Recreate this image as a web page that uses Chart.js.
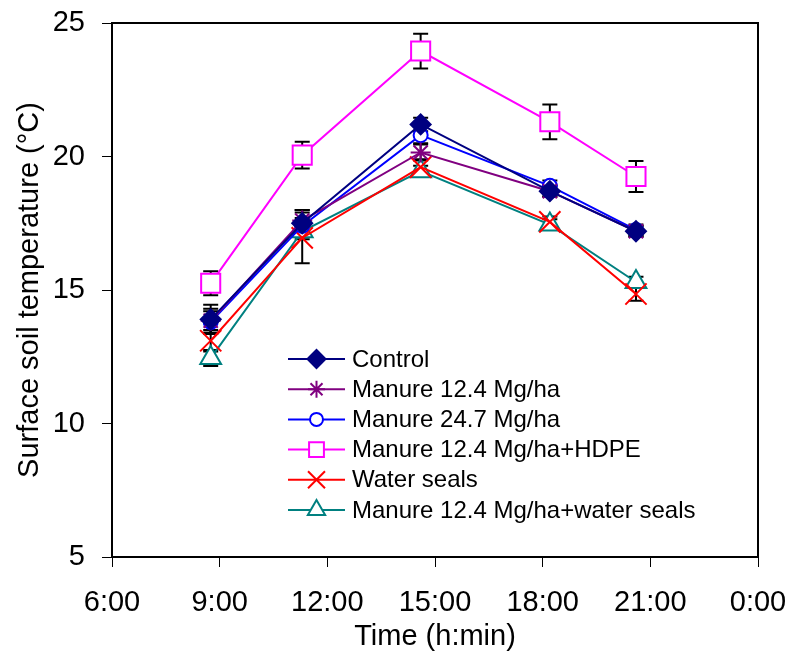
<!DOCTYPE html>
<html>
<head>
<meta charset="utf-8">
<title>Surface soil temperature</title>
<script src="https://cdn.jsdelivr.net/npm/chart.js@4.4.1/dist/chart.umd.min.js"></script>
<style>
  html, body { margin: 0; padding: 0; background: #fff; }
  #wrap { width: 791px; height: 660px; }
</style>
</head>
<body>
<div id="wrap"><canvas id="tempChart" width="791" height="660"></canvas></div>
<script>
// sampling times (hours of the day)
var times = [8.75, 11.3, 14.6, 18.2, 20.6];
var timeLabels = ['6:00', '9:00', '12:00', '15:00', '18:00', '21:00', '0:00'];
var tempTicks = [5, 10, 15, 20, 25];

var seriesNames = ['Control', 'Manure 12.4 Mg/ha', 'Manure 24.7 Mg/ha',
	'Manure 12.4 Mg/ha+HDPE', 'Water seals', 'Manure 12.4 Mg/ha+water seals'];

// mean surface soil temperature (C)
var control    = [13.9, 17.5, 21.2, 18.7, 17.2];
var manure124  = [13.85, 17.6, 20.15, 18.7, 17.2];
var manure247  = [13.8, 17.4, 20.8, 18.9, 17.25];
var manureHdpe = [15.25, 20.05, 23.95, 21.3, 19.25];
var waterSeals = [13.1, 16.95, 19.6, 17.55, 14.85];
var manureWater= [12.45, 17.2, 19.45, 17.45, 15.3];

// error bars (+/-)
var controlErr    = [0.55, 0.5, 0.25, 0.2, 0.2];
var manure124Err  = [0.45, 0.4, 0.3, 0.2, 0.2];
var manure247Err  = [0.4, 0.3, 0.3, 0.2, 0.2];
var manureHdpeErr = [0.45, 0.5, 0.65, 0.65, 0.58];
var waterSealsErr = [0.4, 0.95, 0.3, 0.2, 0.25];
var manureWaterErr= [0.3, 0.3, 0.2, 0.2, 0.2];

function toPoints(vals) {
	var pts = [];
	for (var i = 0; i < times.length; i++) {
		pts.push({x: times[i], y: vals[i]});
	}
	return pts;
}

var styles = [
	{color: '#000080', point: 'rectRot', radius: 10, fill: '#000080', legendRadius: 9},
	{color: '#800080', point: 'star', radius: 10, fill: '#800080', legendRadius: 8.5},
	{color: '#0000ff', point: 'circle', radius: 7, fill: '#ffffff', legendRadius: 6.5},
	{color: '#ff00ff', point: 'rect', radius: 13.5, fill: '#ffffff', legendRadius: 10.5},
	{color: '#ff0000', point: 'crossRot', radius: 15, fill: '#ff0000', legendRadius: 12},
	{color: '#008080', point: 'triangle', radius: 12, fill: '#ffffff', legendRadius: 10}
];
var allValues = [control, manure124, manure247, manureHdpe, waterSeals, manureWater];
var allErrors = [controlErr, manure124Err, manure247Err, manureHdpeErr, waterSealsErr, manureWaterErr];

var datasets = [];
for (var i = 0; i < seriesNames.length; i++) {
	datasets.push({
		label: seriesNames[i],
		data: toPoints(allValues[i]),
		errors: allErrors[i],
		borderColor: styles[i].color,
		backgroundColor: styles[i].fill,
		borderWidth: 2,
		pointStyle: styles[i].point,
		pointRadius: styles[i].radius,
		pointBorderColor: styles[i].color,
		pointBackgroundColor: styles[i].fill,
		pointBorderWidth: 2,
		tension: 0,
		fill: false
	});
}

// black error bars, drawn under the markers
var errorBars = {
	id: 'errorBars',
	beforeDatasetsDraw: function(chart) {
		var ctx = chart.ctx;
		var xs = chart.scales.x, ys = chart.scales.y;
		ctx.save();
		ctx.strokeStyle = '#000';
		ctx.lineWidth = 2;
		chart.data.datasets.forEach(function(ds) {
			ds.data.forEach(function(p, j) {
				var e = ds.errors[j];
				var px = xs.getPixelForValue(p.x);
				var top = ys.getPixelForValue(p.y + e);
				var bot = ys.getPixelForValue(p.y - e);
				ctx.beginPath();
				ctx.moveTo(px, top); ctx.lineTo(px, bot);
				ctx.moveTo(px - 7.5, top); ctx.lineTo(px + 7.5, top);
				ctx.moveTo(px - 7.5, bot); ctx.lineTo(px + 7.5, bot);
				ctx.stroke();
			});
		});
		ctx.restore();
	}
};

// box round the plot area and the legend inside it
var frameAndLegend = {
	id: 'frameAndLegend',
	afterDraw: function(chart) {
		var ctx = chart.ctx;
		var a = chart.chartArea;
		ctx.save();
		ctx.strokeStyle = '#000';
		ctx.lineWidth = 2;
		ctx.strokeRect(a.left, a.top, a.right - a.left, a.bottom - a.top);

		var x0 = 288, x1 = 345, y0 = 359, step = 30.2;
		ctx.font = '24px "Liberation Sans", Arial, sans-serif';
		ctx.textBaseline = 'middle';
		ctx.textAlign = 'left';
		for (var i = 0; i < seriesNames.length; i++) {
			var y = y0 + i * step;
			ctx.strokeStyle = styles[i].color;
			ctx.lineWidth = 2;
			ctx.beginPath();
			ctx.moveTo(x0, y); ctx.lineTo(x1, y);
			ctx.stroke();
			ctx.fillStyle = styles[i].fill;
			ctx.strokeStyle = styles[i].color;
			Chart.helpers.drawPoint(ctx, {
				pointStyle: styles[i].point,
				radius: styles[i].legendRadius,
				rotation: 0,
				borderWidth: 2
			}, (x0 + x1) / 2, y);
			ctx.fillStyle = '#000';
			ctx.fillText(seriesNames[i], 352, y + 1);
		}
		ctx.restore();
	}
};

var axisFont = {family: '"Liberation Sans", Arial, sans-serif', size: 29};

new Chart(document.getElementById('tempChart'), {
	type: 'line',
	data: {datasets: datasets},
	plugins: [errorBars, frameAndLegend],
	options: {
		responsive: false,
		animation: false,
		layout: {padding: {left: 0, top: 23, right: 33, bottom: 0}},
		plugins: {
			legend: {display: false},
			tooltip: {enabled: false}
		},
		scales: {
			x: {
				type: 'linear',
				min: 6,
				max: 24,
				afterFit: function(scale) {
					scale.height = 103;
					scale.paddingLeft = 0;
					scale.paddingRight = 0;
				},
				afterBuildTicks: function(scale) {
					scale.ticks = timeLabels.map(function(t, k) { return {value: 6 + 3 * k}; });
				},
				ticks: {
					color: '#000',
					font: axisFont,
					padding: 19,
					maxRotation: 0,
					callback: function(v, k) { return timeLabels[k]; }
				},
				grid: {drawOnChartArea: false, drawTicks: true, tickLength: 10, color: '#000', lineWidth: 1},
				border: {display: false},
				title: {display: true, text: 'Time (h:min)', color: '#000', font: axisFont, padding: {top: 0, bottom: 6}}
			},
			y: {
				type: 'linear',
				min: 5,
				max: 25,
				afterFit: function(scale) {
					scale.width = 112;
					scale.paddingTop = 0;
					scale.paddingBottom = 0;
				},
				afterBuildTicks: function(scale) {
					scale.ticks = tempTicks.map(function(t) { return {value: t}; });
				},
				ticks: {color: '#000', font: axisFont, padding: 17},
				grid: {drawOnChartArea: false, drawTicks: true, tickLength: 10, color: '#000', lineWidth: 1},
				border: {display: false},
				title: {display: true, text: 'Surface soil temperature (\u00B0C)', color: '#000', font: axisFont, padding: {top: 13, bottom: 0}}
			}
		}
	}
});
</script>
</body>
</html>
